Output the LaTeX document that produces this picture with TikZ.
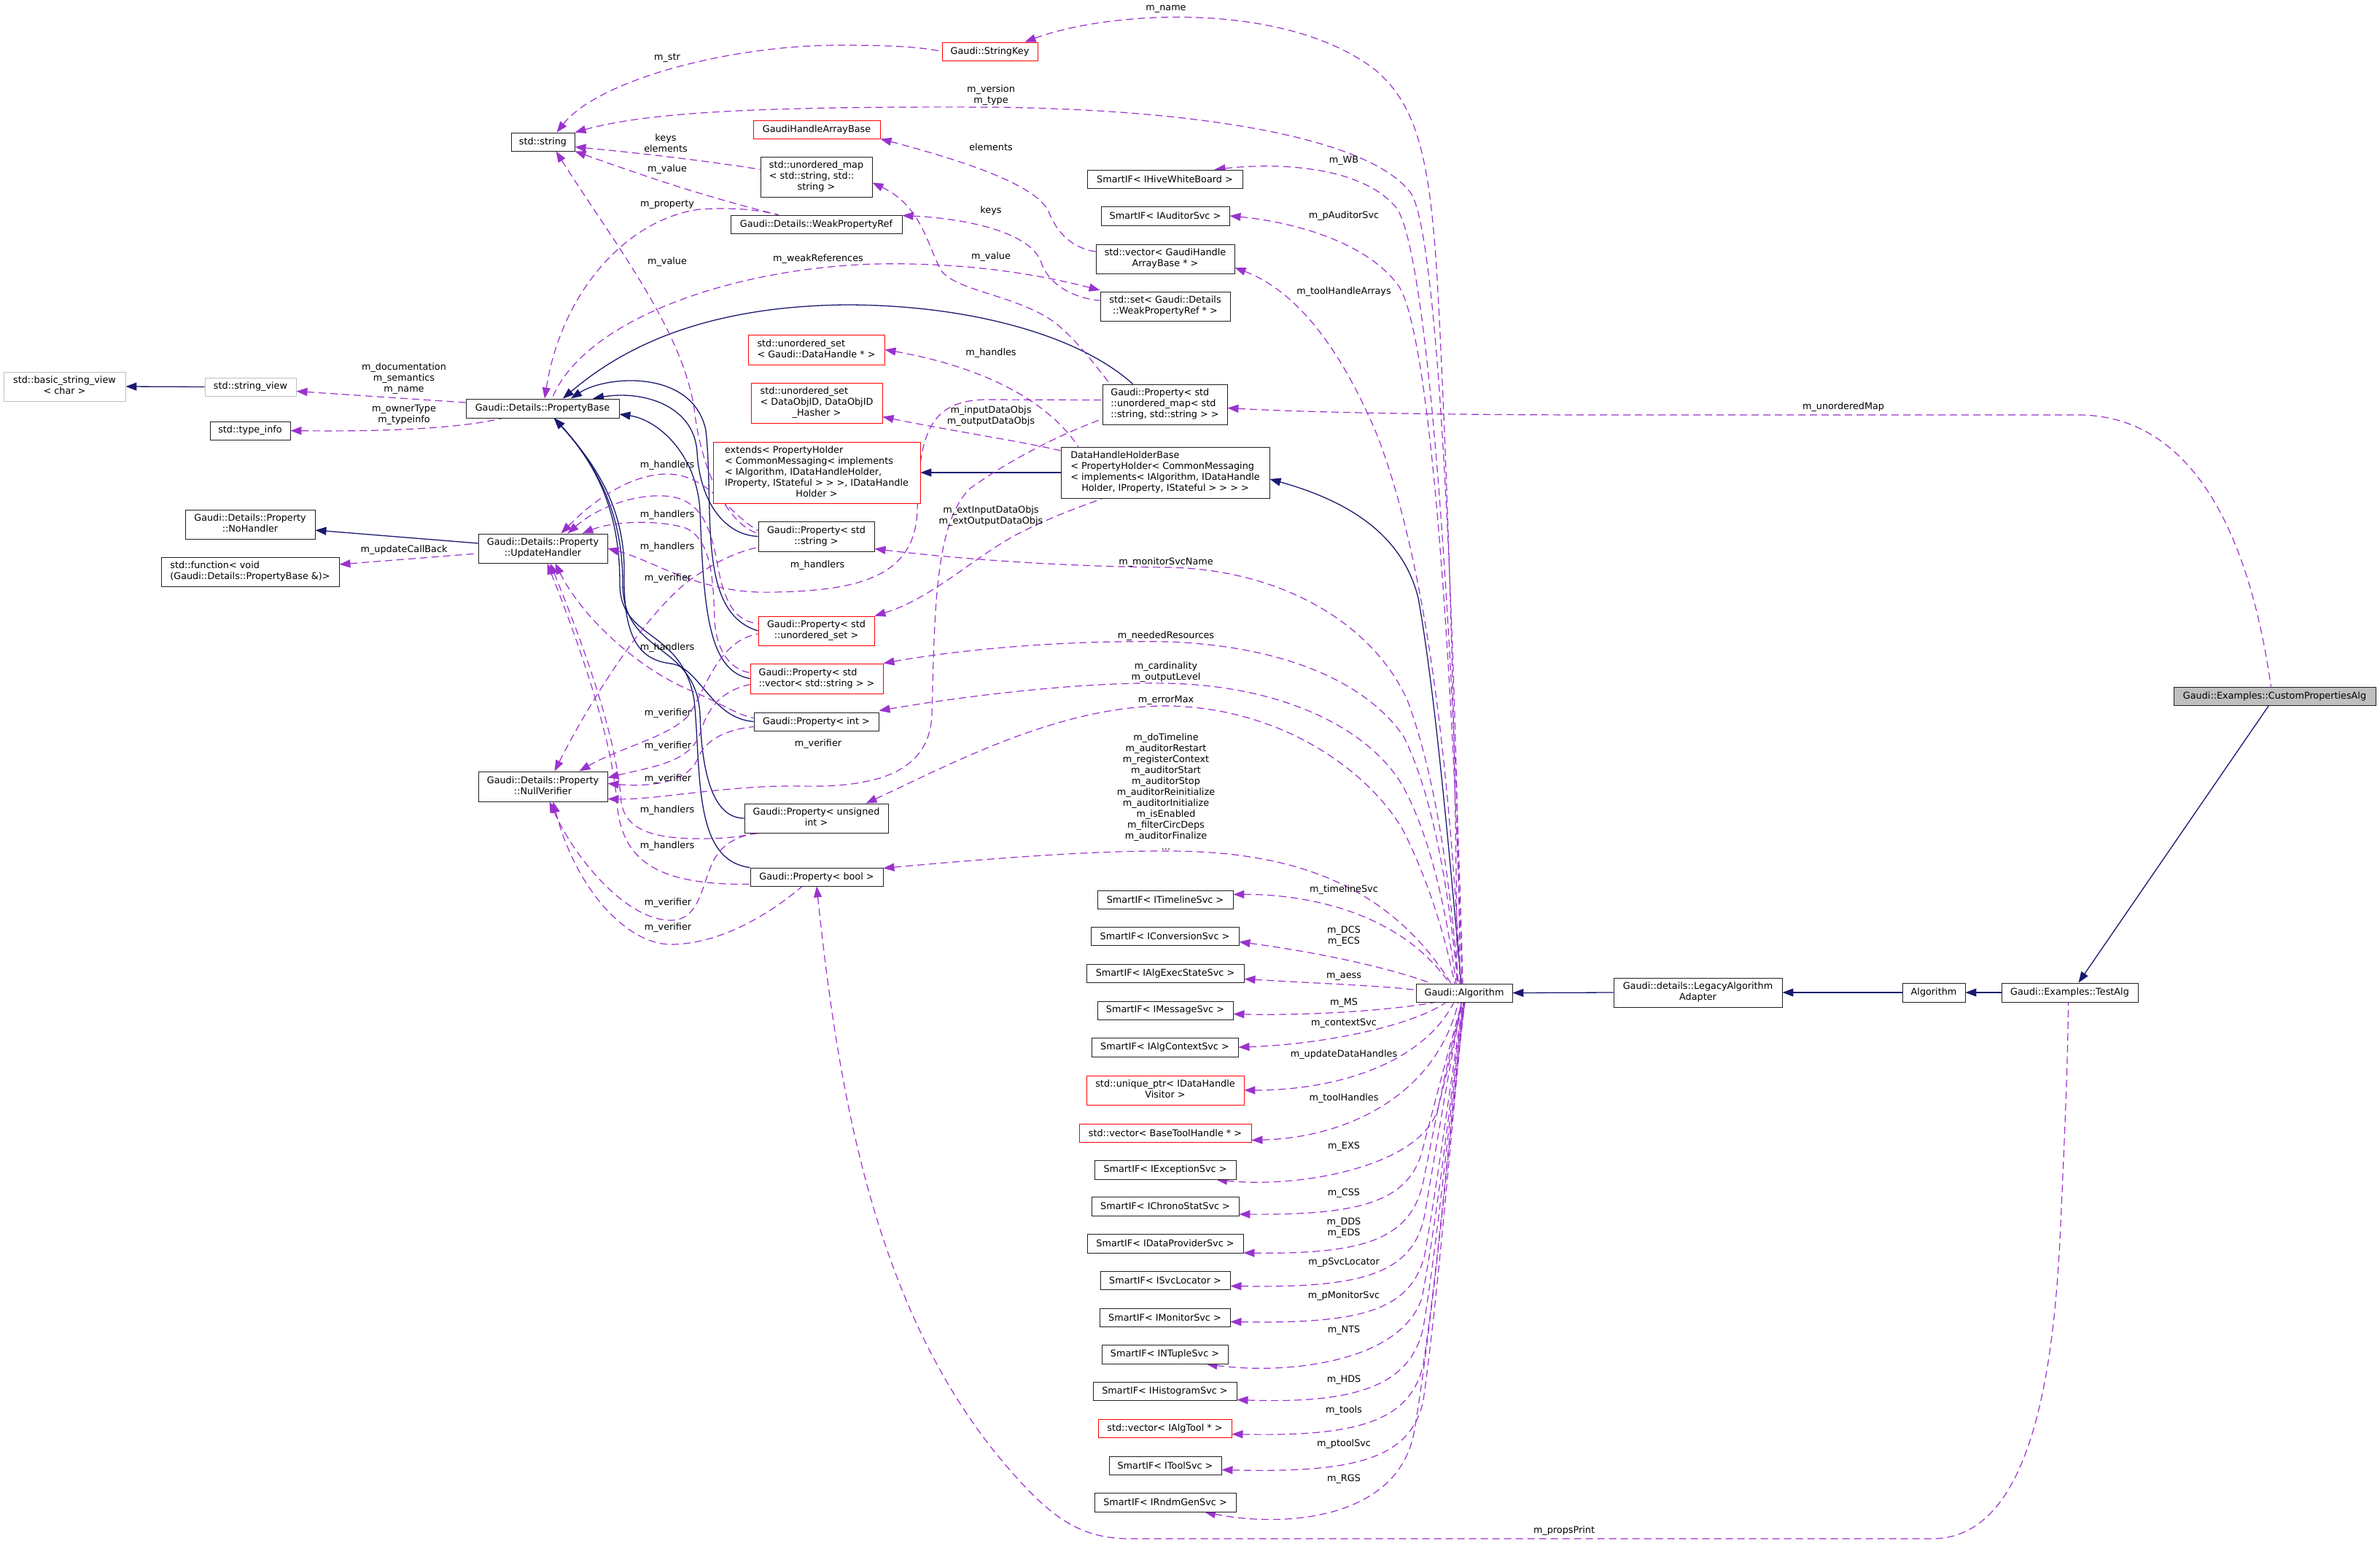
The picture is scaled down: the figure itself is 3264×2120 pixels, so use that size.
\documentclass[tikz,border=0pt]{standalone}
\usepackage{fontspec}
\setmainfont{DejaVu Sans}
\usetikzlibrary{arrows.meta}
\definecolor{edgeuse}{HTML}{9A32CD}
\definecolor{edgeinh}{HTML}{191970}
\definecolor{boxgray}{HTML}{BFBFBF}
\definecolor{boxline}{HTML}{202020}
\pgfdeclarelayer{back}
\pgfdeclarelayer{edges}
\pgfsetlayers{back,edges,main}
\newcommand{\mlast}[2]{\begin{tabular}{@{}l@{}}#1\\\multicolumn{1}{@{}c@{}}{#2}\end{tabular}}
\tikzset{
 nbox/.style={draw=boxline, line width=0.9pt, fill=white, inner sep=0pt},
 redbox/.style={nbox, draw=red},
 graybox/.style={nbox, draw=boxgray},
 inhedge/.style={draw=edgeinh, line width=1.3pt, {Triangle[length=15pt,width=11pt]}-},
 usesedge/.style={draw=edgeuse, line width=1.2pt, dash pattern=on 10pt off 6pt, {Triangle[length=15pt,width=11pt]}-},
 lbl/.style={inner sep=0pt, align=center},
}
\begin{document}
\begin{tikzpicture}[x=1pt,y=-1pt,font=\fontsize{12.8pt}{15pt}\selectfont]
\useasboundingbox (0,0) rectangle (3264,2120);
\begin{pgfonlayer}{back}
\fill[white] (0,0) rectangle (3264,2120);
\end{pgfonlayer}
% ---------------- nodes
\node[graybox, minimum width=167pt, minimum height=40pt] (bsv) at (88.5,530) {\mlast{std::basic\_string\_view}{< char >}};
\node[graybox, minimum width=125pt, minimum height=25pt] (sv) at (343.5,530.5) {std::string\_view};
\node[nbox, minimum width=110pt, minimum height=25pt] (ti) at (343,590.5) {std::type\_info};
\node[nbox, minimum width=210pt, minimum height=26pt] (pb) at (744,560) {Gaudi::Details::PropertyBase};
\node[nbox, minimum width=87pt, minimum height=25pt] (str) at (744.5,194.5) {std::string};
\node[nbox, minimum width=178pt, minimum height=40pt] (noh) at (343,719) {\mlast{Gaudi::Details::Property}{::NoHandler}};
\node[nbox, minimum width=244pt, minimum height=40pt] (fn) at (343,784) {\mlast{std::function< void}{(Gaudi::Details::PropertyBase \&)>}};
\node[nbox, minimum width=177pt, minimum height=40pt] (uh) at (744.5,752) {\mlast{Gaudi::Details::Property}{::UpdateHandler}};
\node[nbox, minimum width=177pt, minimum height=41pt] (nv) at (744.5,1078.5) {\mlast{Gaudi::Details::Property}{::NullVerifier}};
\node[redbox, minimum width=131pt, minimum height=25pt] (sk) at (1357.5,70.5) {Gaudi::StringKey};
\node[redbox, minimum width=174pt, minimum height=25pt] (ghab) at (1120,177.5) {GaudiHandleArrayBase};
\node[nbox, minimum width=153pt, minimum height=55pt] (umap) at (1119.5,242.5) {\mlast{std::unordered\_map\\< std::string, std::}{string >}};
\node[nbox, minimum width=235pt, minimum height=25pt] (wpr) at (1119.5,307.5) {Gaudi::Details::WeakPropertyRef};
\node[redbox, minimum width=187pt, minimum height=41pt] (usdh) at (1119.5,479.5) {\mlast{std::unordered\_set}{< Gaudi::DataHandle * >}};
\node[redbox, minimum width=180pt, minimum height=55pt] (usdo) at (1120,552.5) {\mlast{std::unordered\_set\\< DataObjID, DataObjID}{\_Hasher >}};
\node[redbox, minimum width=284pt, minimum height=84pt] (ext) at (1120,648) {\mlast{extends< PropertyHolder\\< CommonMessaging< implements\\< IAlgorithm, IDataHandleHolder,\\ IProperty, IStateful > > >, IDataHandle}{Holder >}};
\node[nbox, minimum width=159pt, minimum height=41pt] (pstr) at (1119.5,735.5) {\mlast{Gaudi::Property< std}{::string >}};
\node[redbox, minimum width=159pt, minimum height=40pt] (puset) at (1119.5,865) {\mlast{Gaudi::Property< std}{::unordered\_set >}};
\node[redbox, minimum width=182pt, minimum height=41pt] (pvec) at (1120,930.5) {\mlast{Gaudi::Property< std}{::vector< std::string > >}};
\node[nbox, minimum width=171pt, minimum height=25pt] (pint) at (1119.5,989.5) {Gaudi::Property< int >};
\node[nbox, minimum width=197pt, minimum height=40pt] (puint) at (1119.5,1122) {\mlast{Gaudi::Property< unsigned}{int >}};
\node[nbox, minimum width=182pt, minimum height=25pt] (pbool) at (1120,1202.5) {Gaudi::Property< bool >};
\node[nbox, minimum width=213pt, minimum height=25pt] (hwb) at (1597.5,245.5) {SmartIF< IHiveWhiteBoard >};
\node[nbox, minimum width=176pt, minimum height=26pt] (aud) at (1598,296) {SmartIF< IAuditorSvc >};
\node[nbox, minimum width=190pt, minimum height=40pt] (vghab) at (1598,355) {\mlast{std::vector< GaudiHandle}{ArrayBase * >}};
\node[nbox, minimum width=178pt, minimum height=40pt] (swpr) at (1598,420) {\mlast{std::set< Gaudi::Details}{::WeakPropertyRef * >}};
\node[nbox, minimum width=171pt, minimum height=55pt] (pumap) at (1597.5,554.5) {\mlast{Gaudi::Property< std\\::unordered\_map< std}{::string, std::string > >}};
\node[nbox, minimum width=286pt, minimum height=70pt] (dhhb) at (1598,648) {\mlast{DataHandleHolderBase\\< PropertyHolder< CommonMessaging\\< implements< IAlgorithm, IDataHandle}{Holder, IProperty, IStateful > > > >}};
\node[nbox, minimum width=186pt, minimum height=25pt] (tl) at (1598,1233.5) {SmartIF< ITimelineSvc >};
\node[nbox, minimum width=203pt, minimum height=25pt] (conv) at (1597.5,1283.5) {SmartIF< IConversionSvc >};
\node[nbox, minimum width=216pt, minimum height=25pt] (aess) at (1598,1334.5) {SmartIF< IAlgExecStateSvc >};
\node[nbox, minimum width=186pt, minimum height=25pt] (msg) at (1598,1385.5) {SmartIF< IMessageSvc >};
\node[nbox, minimum width=201pt, minimum height=26pt] (actx) at (1597.5,1436) {SmartIF< IAlgContextSvc >};
\node[redbox, minimum width=216pt, minimum height=40pt] (uptr) at (1598,1495) {\mlast{std::unique\_ptr< IDataHandle}{Visitor >}};
\node[redbox, minimum width=236pt, minimum height=25pt] (vbth) at (1598,1553.5) {std::vector< BaseToolHandle * >};
\node[nbox, minimum width=194pt, minimum height=26pt] (exc) at (1598,1604) {SmartIF< IExceptionSvc >};
\node[nbox, minimum width=202pt, minimum height=26pt] (chrono) at (1598,1654) {SmartIF< IChronoStatSvc >};
\node[nbox, minimum width=214pt, minimum height=26pt] (dps) at (1598,1705) {SmartIF< IDataProviderSvc >};
\node[nbox, minimum width=178pt, minimum height=25pt] (svcl) at (1598,1755.5) {SmartIF< ISvcLocator >};
\node[nbox, minimum width=179pt, minimum height=25pt] (mon) at (1597.5,1806.5) {SmartIF< IMonitorSvc >};
\node[nbox, minimum width=173pt, minimum height=26pt] (ntup) at (1597.5,1857) {SmartIF< INTupleSvc >};
\node[nbox, minimum width=197pt, minimum height=25pt] (hist) at (1597.5,1907.5) {SmartIF< IHistogramSvc >};
\node[redbox, minimum width=183pt, minimum height=25pt] (vtool) at (1597.5,1958.5) {std::vector< IAlgTool * >};
\node[nbox, minimum width=154pt, minimum height=25pt] (tsvc) at (1598,2009.5) {SmartIF< IToolSvc >};
\node[nbox, minimum width=194pt, minimum height=26pt] (rndm) at (1598,2060) {SmartIF< IRndmGenSvc >};
\node[nbox, minimum width=132pt, minimum height=25pt] (galg) at (2008,1361.5) {Gaudi::Algorithm};
\node[nbox, minimum width=231pt, minimum height=40pt] (lega) at (2328.5,1361) {\mlast{Gaudi::details::LegacyAlgorithm}{Adapter}};
\node[nbox, minimum width=86pt, minimum height=26pt] (alg) at (2652,1361) {Algorithm};
\node[nbox, minimum width=187pt, minimum height=26pt] (talg) at (2838.5,1361) {Gaudi::Examples::TestAlg};
\node[nbox, fill=boxgray, minimum width=277pt, minimum height=25pt] (cpa) at (3119.5,954.5) {Gaudi::Examples::CustomPropertiesAlg};
% ---------------- edges
\begin{pgfonlayer}{edges}
% inheritance
\draw[inhedge] (bsv.east) -- (sv.west);
\draw[inhedge] ([yshift=-8pt]noh.east) -- ([yshift=7pt]uh.west);
\draw[inhedge] (ext.east) -- (dhhb.west);
\draw[inhedge] ([yshift=-9pt]dhhb.east) .. controls (1860,690) and (1925,740) .. (1945,820) .. controls (1970,960) and (1990,1200) .. ([xshift=-4pt]galg.north);
\draw[inhedge] (galg.east) -- (lega.west);
\draw[inhedge] (lega.east) -- (alg.west);
\draw[inhedge] (alg.east) -- (talg.west);
\draw[inhedge] ([xshift=12pt]talg.north) -- ([xshift=-8pt]cpa.south);
\draw[inhedge] ([xshift=28pt]pb.north) .. controls (850,480) and (960,420) .. (1160,418) .. controls (1330,418) and (1480,460) .. ([xshift=-44pt]pumap.north);
\draw[inhedge] ([xshift=69pt]pb.north) .. controls (880,535) and (952,555) .. (956,620) .. controls (960,690) and (995,734) .. (pstr.west);
\draw[inhedge] ([xshift=39pt]pb.north) .. controls (830,515) and (950,505) .. (968,590) .. controls (980,700) and (955,840) .. (puset.west);
\draw[inhedge] ([yshift=-8pt]pb.east) .. controls (900,575) and (955,620) .. (960,700) .. controls (965,830) and (970,920) .. (pvec.west);
\draw[inhedge] ([xshift=16pt]pb.south) .. controls (820,640) and (858,700) .. (856,790) .. controls (855,880) and (880,905) .. (920,910) .. controls (960,915) and (975,985) .. (pint.west);
\draw[inhedge] ([xshift=16pt]pb.south) .. controls (830,650) and (854,720) .. (854,800) .. controls (854,900) and (955,880) .. (960,980) .. controls (963,1080) and (985,1122) .. (puint.west);
\draw[inhedge] ([xshift=16pt]pb.south) .. controls (830,650) and (850,720) .. (850,800) .. controls (850,880) and (935,860) .. (952,960) .. controls (962,1060) and (950,1180) .. (pbool.north west);
% usage
\draw[usesedge] ([yshift=-6pt]sv.east) -- ([yshift=8pt]pb.west);
\draw[usesedge] (ti.east) .. controls (520,592) and (630,588) .. ([xshift=-55pt]pb.south);
\draw[usesedge] ([yshift=10pt]fn.east) -- ([yshift=-7pt]uh.west);
\draw[usesedge] ([xshift=19pt]str.north) .. controls (820,110) and (1000,62) .. (1150,62) .. controls (1220,62) and (1260,64) .. (sk.west);
\draw[usesedge] ([xshift=48pt]sk.north) .. controls (1520,15) and (1760,0) .. (1885,95) .. controls (1945,145) and (1962,220) .. (1972,400) .. controls (1988,700) and (1998,1100) .. ([xshift=-10pt]galg.north);
\draw[usesedge] (str.north east) .. controls (900,150) and (1100,146) .. (1360,147) .. controls (1650,150) and (1880,190) .. (1935,265) .. controls (1978,330) and (2000,1000) .. ([xshift=-6pt]galg.north);
\draw[usesedge] ([yshift=-7pt]str.east) .. controls (900,212) and (1000,225) .. ([yshift=10pt]umap.west);
\draw[usesedge] (str.south east) .. controls (880,240) and (960,268) .. ([xshift=-52pt]wpr.north);
\draw[usesedge] ([xshift=3pt]pb.north) .. controls (770,400) and (860,300) .. (960,287) .. controls (1010,284) and (1040,288) .. ([xshift=-52pt]wpr.north);
\draw[usesedge] ([xshift=18pt]str.south) .. controls (840,330) and (935,450) .. (952,560) .. controls (962,650) and (1000,720) .. ([yshift=4pt]pstr.west);
\draw[usesedge] (ghab.south east) .. controls (1300,215) and (1420,250) .. (1438,290) .. controls (1450,320) and (1470,340) .. ([yshift=10pt]vghab.west);
\draw[usesedge] ([yshift=12pt]wpr.east) .. controls (1330,300) and (1415,320) .. (1428,360) .. controls (1440,395) and (1480,410) .. ([yshift=8pt]swpr.west);
\draw[usesedge] ([yshift=22pt]swpr.west) .. controls (1400,370) and (1300,360) .. (1200,362) .. controls (1000,368) and (800,440) .. ([xshift=13pt]pb.north);
\draw[usesedge] ([yshift=-8pt]umap.east) .. controls (1262,282) and (1270,330) .. (1290,370) .. controls (1310,400) and (1400,405) .. (1450,445) .. controls (1480,470) and (1505,505) .. ([xshift=-75pt]pumap.north);
\draw[usesedge] (usdh.east) .. controls (1330,500) and (1430,540) .. ([xshift=-119pt]dhhb.north);
\draw[usesedge] ([yshift=-19pt]usdo.east) .. controls (1300,590) and (1400,605) .. ([yshift=30pt]dhhb.west);
\draw[usesedge] (puset.north east) .. controls (1280,820) and (1340,760) .. (1400,730) .. controls (1450,705) and (1490,692) .. ([xshift=-86pt]dhhb.south);
\draw[usesedge] ([yshift=-17pt]pstr.east) .. controls (1300,765) and (1450,777) .. (1600,778) .. controls (1750,780) and (1880,850) .. (1930,960) .. controls (1975,1080) and (1992,1250) .. ([xshift=-8pt]galg.north);
\draw[usesedge] (pvec.north east) .. controls (1350,885) and (1500,878) .. (1600,880) .. controls (1750,885) and (1870,930) .. (1925,1010) .. controls (1970,1100) and (1990,1250) .. ([xshift=-9pt]galg.north);
\draw[usesedge] ([yshift=15pt]pint.east) .. controls (1350,950) and (1500,935) .. (1600,937) .. controls (1760,940) and (1880,1000) .. (1925,1080) .. controls (1968,1160) and (1988,1280) .. ([xshift=-11pt]galg.north);
\draw[usesedge] ([xshift=68pt]puint.north) .. controls (1300,1050) and (1450,968) .. (1600,968) .. controls (1760,970) and (1880,1060) .. (1925,1140) .. controls (1965,1220) and (1985,1300) .. ([xshift=-13pt]galg.north);
\draw[usesedge] ([yshift=12pt]pbool.east) .. controls (1350,1178) and (1500,1166) .. (1606,1167) .. controls (1760,1168) and (1900,1205) .. ([xshift=-18pt]galg.north);
\draw[usesedge] ([xshift=68pt]hwb.north) .. controls (1760,222) and (1870,230) .. (1915,285) .. controls (1960,345) and (1995,900) .. ([xshift=-2pt]galg.north);
\draw[usesedge] (aud.east) .. controls (1780,305) and (1880,335) .. (1920,395) .. controls (1962,470) and (1992,900) .. ([xshift=-3pt]galg.north);
\draw[usesedge] ([yshift=-12pt]vghab.east) .. controls (1780,400) and (1840,480) .. (1890,600) .. controls (1950,760) and (1985,1000) .. ([xshift=-5pt]galg.north);
\draw[usesedge] ([yshift=-5pt]pumap.east) .. controls (1800,566) and (2000,569) .. (2200,569) -- (2850,569) .. controls (2990,569) and (3080,700) .. ([xshift=-5pt]cpa.north);
\draw[usesedge] ([yshift=7pt]tl.east) .. controls (1790,1226) and (1920,1250) .. ([xshift=-20pt]galg.north);
\draw[usesedge] ([yshift=-8pt]conv.east) .. controls (1800,1305) and (1900,1325) .. ([xshift=-45pt]galg.north);
\draw[usesedge] ([yshift=-8pt]aess.east) .. controls (1800,1348) and (1900,1352) .. ([yshift=4pt]galg.west);
\draw[usesedge] ([yshift=-5pt]msg.east) .. controls (1800,1393) and (1910,1385) .. ([xshift=-40pt]galg.south);
\draw[usesedge] (actx.east) .. controls (1820,1432) and (1940,1405) .. ([xshift=-25pt]galg.south);
\draw[usesedge] (uptr.east) .. controls (1830,1495) and (1950,1460) .. ([xshift=-14pt]galg.south);
\draw[usesedge] ([yshift=-10pt]vbth.east) .. controls (1850,1560) and (1970,1500) .. ([xshift=-8pt]galg.south);
\draw[usesedge] ([xshift=70pt]exc.south) .. controls (1780,1630) and (1950,1600) .. (1972,1520) .. controls (1990,1450) and (2000,1400) .. ([xshift=-4pt]galg.south);
\draw[usesedge] ([yshift=-11pt]chrono.east) .. controls (1860,1666) and (1930,1650) .. (1950,1580) .. controls (1968,1510) and (1992,1420) .. ([xshift=-3pt]galg.south);
\draw[usesedge] ([yshift=-13pt]dps.east) .. controls (1870,1720) and (1935,1700) .. (1952,1620) .. controls (1970,1530) and (1992,1420) .. ([xshift=-2pt]galg.south);
\draw[usesedge] ([yshift=-8pt]svcl.east) .. controls (1860,1766) and (1935,1750) .. (1953,1670) .. controls (1972,1560) and (1993,1430) .. ([xshift=-2pt]galg.south);
\draw[usesedge] ([yshift=-6pt]mon.east) .. controls (1860,1815) and (1935,1800) .. (1954,1720) .. controls (1975,1600) and (1995,1440) .. ([xshift=-1pt]galg.south);
\draw[usesedge] ([xshift=57pt]ntup.south) .. controls (1760,1885) and (1920,1870) .. (1950,1780) .. controls (1975,1650) and (1995,1450) .. ([xshift=-1pt]galg.south);
\draw[usesedge] ([yshift=-12pt]hist.east) .. controls (1860,1925) and (1935,1900) .. (1952,1820) .. controls (1975,1680) and (1996,1450) .. (galg.south);
\draw[usesedge] ([yshift=-8pt]vtool.east) .. controls (1860,1970) and (1935,1950) .. (1952,1870) .. controls (1975,1720) and (1997,1450) .. (galg.south);
\draw[usesedge] ([yshift=-6pt]tsvc.east) .. controls (1860,2020) and (1935,2000) .. (1952,1920) .. controls (1976,1750) and (1998,1450) .. ([xshift=1pt]galg.south);
\draw[usesedge] ([xshift=54pt]rndm.south) .. controls (1760,2095) and (1920,2085) .. (1940,1960) .. controls (1970,1780) and (1998,1450) .. ([xshift=1pt]galg.south);
\draw[usesedge] (pbool.south) .. controls (1150,1500) and (1200,1800) .. (1380,2010) .. controls (1440,2080) and (1480,2110) .. (1550,2110) -- (2650,2110) .. controls (2780,2110) and (2815,1900) .. (2825,1700) .. controls (2832,1550) and (2836,1450) .. ([xshift=-2pt]talg.south);
% handlers
\draw[usesedge] ([xshift=25pt]uh.north) .. controls (820,680) and (870,650) .. (915,650) .. controls (970,650) and (1000,705) .. ([yshift=8pt]pstr.west);
\draw[usesedge] ([xshift=34pt]uh.north) .. controls (820,695) and (870,678) .. (910,680) .. controls (960,682) and (975,720) .. (985,780) .. controls (995,830) and (1010,852) .. ([yshift=10pt]puset.west);
\draw[usesedge] ([xshift=54pt]uh.north) .. controls (840,715) and (900,712) .. (940,724) .. controls (975,740) and (978,790) .. (980,850) .. controls (982,890) and (1000,918) .. ([yshift=8pt]pvec.west);
\draw[usesedge] (uh.east) .. controls (900,770) and (960,815) .. (1060,812) .. controls (1180,810) and (1255,790) .. (1258,700) .. controls (1260,600) and (1272,550) .. (1350,548) -- ([yshift=6pt]pumap.west);
\draw[usesedge] ([xshift=17pt]uh.south) .. controls (800,850) and (880,920) .. (950,948) .. controls (990,965) and (1010,980) .. ([yshift=5pt]pint.west);
\draw[usesedge] ([xshift=10pt]uh.south) .. controls (790,860) and (845,1000) .. (852,1100) .. controls (858,1140) and (900,1150) .. (960,1150) .. controls (1000,1150) and (1025,1146) .. ([xshift=10pt]puint.south west);
\draw[usesedge] ([xshift=6pt]uh.south) .. controls (785,860) and (838,1000) .. (846,1100) .. controls (852,1180) and (900,1214) .. ([yshift=-10pt]pbool.west);
% verifiers
\draw[usesedge] ([xshift=16pt]nv.north) .. controls (810,960) and (880,850) .. (940,800) .. controls (980,770) and (1010,757) .. ([yshift=-15pt]pstr.west);
\draw[usesedge] ([xshift=50pt]nv.north) .. controls (850,1025) and (920,1010) .. (945,980) .. controls (970,940) and (985,880) .. ([yshift=-4pt]puset.west);
\draw[usesedge] ([yshift=12pt]nv.east) .. controls (900,1050) and (950,1045) .. (962,1000) .. controls (975,960) and (1000,945) .. ([yshift=-8pt]pvec.west);
\draw[usesedge] ([yshift=4pt]nv.east) .. controls (900,1080) and (945,1070) .. (957,1040) .. controls (968,1012) and (1000,1000) .. ([yshift=-7pt]pint.west);
\draw[usesedge] ([yshift=-17pt]nv.east) .. controls (900,1097) and (1000,1076) .. (1100,1078) .. controls (1200,1080) and (1275,1060) .. (1278,980) .. controls (1282,850) and (1280,720) .. (1330,670) .. controls (1400,620) and (1470,590) .. ([yshift=-20pt]pumap.west);
\draw[usesedge] ([xshift=9pt]nv.south) .. controls (790,1180) and (860,1262) .. (920,1262) .. controls (965,1262) and (962,1200) .. (985,1170) .. controls (1000,1150) and (1025,1143) .. ([xshift=25pt]puint.south west);
\draw[usesedge] ([xshift=14pt]nv.south) .. controls (790,1220) and (860,1295) .. (920,1295) .. controls (990,1295) and (1060,1250) .. ([xshift=-20pt]pbool.south);
\end{pgfonlayer}
% ---------------- labels
\node[lbl] (l1) at (554,519) {m\_documentation\\m\_semantics\\m\_name};
\node[lbl] (l2) at (554,569) {m\_ownerType\\m\_typeinfo};
\node[lbl] (l3) at (554,754) {m\_updateCallBack};
\node[lbl] (l4) at (915,80) {m\_str};
\node[lbl] (l5) at (1599,12) {m\_name};
\node[lbl] (l6) at (1359,131) {m\_version\\m\_type};
\node[lbl] (l7) at (913,196) {keys\\elements};
\node[lbl] (l8) at (915,232) {m\_value};
\node[lbl] (l9) at (915,281) {m\_property};
\node[lbl] (l10) at (915,359) {m\_value};
\node[lbl] (l11) at (1359,202) {elements};
\node[lbl] (l12) at (1359,289) {keys};
\node[lbl] (l13) at (1122,355) {m\_weakReferences};
\node[lbl] (l14) at (1359,352) {m\_value};
\node[lbl] (l15) at (1359,484) {m\_handles};
\node[lbl] (l16) at (1359,571) {m\_inputDataObjs\\m\_outputDataObjs};
\node[lbl] (l17) at (1359,708) {m\_extInputDataObjs\\m\_extOutputDataObjs};
\node[lbl] (l18) at (1599,771) {m\_monitorSvcName};
\node[lbl] (l19) at (1599,872) {m\_neededResources};
\node[lbl] (l20) at (1599,922) {m\_cardinality\\m\_outputLevel};
\node[lbl] (l21) at (1599,960) {m\_errorMax};
\node[lbl] (l22) at (1599,1086) {m\_doTimeline\\m\_auditorRestart\\m\_registerContext\\m\_auditorStart\\m\_auditorStop\\m\_auditorReinitialize\\m\_auditorInitialize\\m\_isEnabled\\m\_filterCircDeps\\m\_auditorFinalize\\...};
\node[lbl] (l23) at (1843,220) {m\_WB};
\node[lbl] (l24) at (1843,296) {m\_pAuditorSvc};
\node[lbl] (l25) at (1843,400) {m\_toolHandleArrays};
\node[lbl] (l26) at (2528,558) {m\_unorderedMap};
\node[lbl] (l27) at (1843,1220) {m\_timelineSvc};
\node[lbl] (l28) at (1843,1284) {m\_DCS\\m\_ECS};
\node[lbl] (l29) at (1843,1339) {m\_aess};
\node[lbl] (l30) at (1843,1375) {m\_MS};
\node[lbl] (l31) at (1843,1403) {m\_contextSvc};
\node[lbl] (l32) at (1843,1446) {m\_updateDataHandles};
\node[lbl] (l33) at (1843,1506) {m\_toolHandles};
\node[lbl] (l34) at (1843,1572) {m\_EXS};
\node[lbl] (l35) at (1843,1636) {m\_CSS};
\node[lbl] (l36) at (1843,1684) {m\_DDS\\m\_EDS};
\node[lbl] (l37) at (1843,1731) {m\_pSvcLocator};
\node[lbl] (l38) at (1843,1777) {m\_pMonitorSvc};
\node[lbl] (l39) at (1843,1824) {m\_NTS};
\node[lbl] (l40) at (1843,1892) {m\_HDS};
\node[lbl] (l41) at (1843,1934) {m\_tools};
\node[lbl] (l42) at (1843,1980) {m\_ptoolSvc};
\node[lbl] (l43) at (1843,2028) {m\_RGS};
\node[lbl] (l44) at (2145,2099) {m\_propsPrint};
\node[lbl] (h1) at (915,638) {m\_handlers};
\node[lbl] (h2) at (915,706) {m\_handlers};
\node[lbl] (h3) at (915,750) {m\_handlers};
\node[lbl] (h4) at (1121,775) {m\_handlers};
\node[lbl] (h5) at (915,888) {m\_handlers};
\node[lbl] (h6) at (915,1111) {m\_handlers};
\node[lbl] (h7) at (915,1160) {m\_handlers};
\node[lbl] (v1) at (916,793) {m\_verifier};
\node[lbl] (v2) at (916,978) {m\_verifier};
\node[lbl] (v3) at (916,1023) {m\_verifier};
\node[lbl] (v4) at (916,1068) {m\_verifier};
\node[lbl] (v5) at (1122,1020) {m\_verifier};
\node[lbl] (v6) at (916,1238) {m\_verifier};
\node[lbl] (v7) at (916,1272) {m\_verifier};
\end{tikzpicture}
\end{document}
